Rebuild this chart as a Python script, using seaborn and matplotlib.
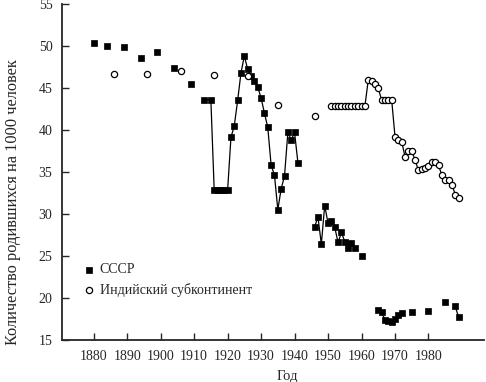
import numpy as np
import pandas as pd
import seaborn as sns
import matplotlib.pyplot as plt


# СССР: year, birth rate, segment id (points in one segment are joined by a line)
ussr_years = [1880, 1884, 1889, 1894, 1899, 1904, 1909,
              1913, 1915, 1916, 1917, 1918, 1919, 1920, 1921, 1922, 1923, 1924,
              1925, 1926, 1927, 1928, 1929, 1930, 1931, 1932, 1933, 1934, 1935,
              1936, 1937, 1938, 1939, 1940, 1941,
              1946, 1947, 1948, 1949, 1950, 1951, 1952, 1953, 1954, 1955, 1956,
              1957, 1958,
              1960,
              1965, 1966, 1967, 1968, 1969, 1970, 1971, 1972,
              1975, 1980, 1985,
              1988, 1989]
ussr_rate = [50.3, 50.0, 49.9, 48.6, 49.3, 47.4, 45.5,
             43.6, 43.6, 32.8, 32.8, 32.8, 32.8, 32.8, 39.1, 40.5, 43.5, 46.8,
             48.8, 47.2, 46.4, 45.8, 45.1, 43.8, 42.0, 40.3, 35.8, 34.6, 30.5,
             33.0, 34.5, 39.7, 38.8, 39.7, 36.1,
             28.5, 29.6, 26.4, 31.0, 28.9, 29.2, 28.4, 26.6, 27.8, 26.7, 26.0,
             26.5, 25.9,
             25.0,
             18.6, 18.3, 17.4, 17.3, 17.1, 17.5, 18.0, 18.2,
             18.3, 18.5, 19.5,
             19.0, 17.7]
ussr_seg = ([0, 1, 2, 3, 4, 5, 6] + [7] * 28 + [8] * 13 + [9] + [10] * 8
            + [11, 12, 13] + [14] * 2)

# Индийский субконтинент
india_years = [1886, 1896, 1906, 1916, 1926, 1935, 1946,
               1951, 1952, 1953, 1954, 1955, 1956, 1957, 1958, 1959, 1960,
               1961, 1962, 1963, 1964, 1965, 1966, 1967, 1968, 1969, 1970,
               1971, 1972, 1973, 1974, 1975, 1976, 1977, 1978, 1979, 1980,
               1981, 1982, 1983, 1984, 1985, 1986, 1987, 1988, 1989]
india_rate = [46.6, 46.6, 47.0, 46.5, 46.4, 43.0, 41.7,
              42.8, 42.8, 42.8, 42.8, 42.8, 42.8, 42.8, 42.8, 42.8, 42.8,
              42.8, 45.9, 45.8, 45.4, 45.0, 43.5, 43.5, 43.5, 43.6, 39.2,
              38.8, 38.6, 36.8, 37.5, 37.5, 36.4, 35.2, 35.4, 35.5, 35.7,
              36.2, 36.2, 35.8, 34.6, 34.0, 34.0, 33.5, 32.3, 31.9]
india_seg = [0, 1, 2, 3, 4, 5, 6] + [7] * 39

x_ticks = [1880, 1890, 1900, 1910, 1920, 1930, 1940, 1950, 1960, 1970, 1980]
y_ticks = [15, 20, 25, 30, 35, 40, 45, 50, 55]

ussr = pd.DataFrame({"year": ussr_years, "rate": ussr_rate, "seg": ussr_seg})
india = pd.DataFrame({"year": india_years, "rate": india_rate, "seg": india_seg})

sns.set_style("ticks")
plt.rcParams["font.family"] = ["Liberation Serif", "DejaVu Serif"]

fig = plt.figure(figsize=(4.86, 3.82), dpi=100)
ax = fig.add_axes([0.128, 0.110, 0.868, 0.880])

# connecting lines
sns.lineplot(data=ussr, x="year", y="rate", units="seg", estimator=None,
             color="black", lw=0.9, legend=False, ax=ax, zorder=2)
sns.lineplot(data=india, x="year", y="rate", units="seg", estimator=None,
             color="black", lw=0.9, legend=False, ax=ax, zorder=2)

# markers
sns.scatterplot(data=ussr, x="year", y="rate", marker="s", s=17,
                color="black", edgecolor="black", linewidth=0.5,
                label="СССР", ax=ax, zorder=3)
sns.scatterplot(data=india, x="year", y="rate", marker="o", s=20,
                facecolor="white", edgecolor="black", linewidth=0.9,
                label="Индийский субконтинент", ax=ax, zorder=3)

ax.set_xlim(1870.6, 1996.6)
ax.set_ylim(15, 55)
ax.set_xticks(x_ticks)
ax.set_yticks(y_ticks)
ax.tick_params(direction="in", length=5, width=1, labelsize=10, pad=7)
sns.despine(ax=ax)
for side in ("left", "bottom"):
    ax.spines[side].set_linewidth(1.3)

ax.set_xlabel("Год", fontsize=10.5)
ax.set_ylabel("Количество родившихся на 1000 человек", fontsize=11.8)
ax.xaxis.set_label_coords(0.533, -0.088)
ax.yaxis.set_label_coords(-0.098, 0.41)

ax.legend(frameon=False, loc="upper left", bbox_to_anchor=(0.03, 0.245),
          borderaxespad=0, handletextpad=0.2, labelspacing=0.5,
          fontsize=10, handlelength=1.2)

fig.savefig("out.png", dpi=100)
